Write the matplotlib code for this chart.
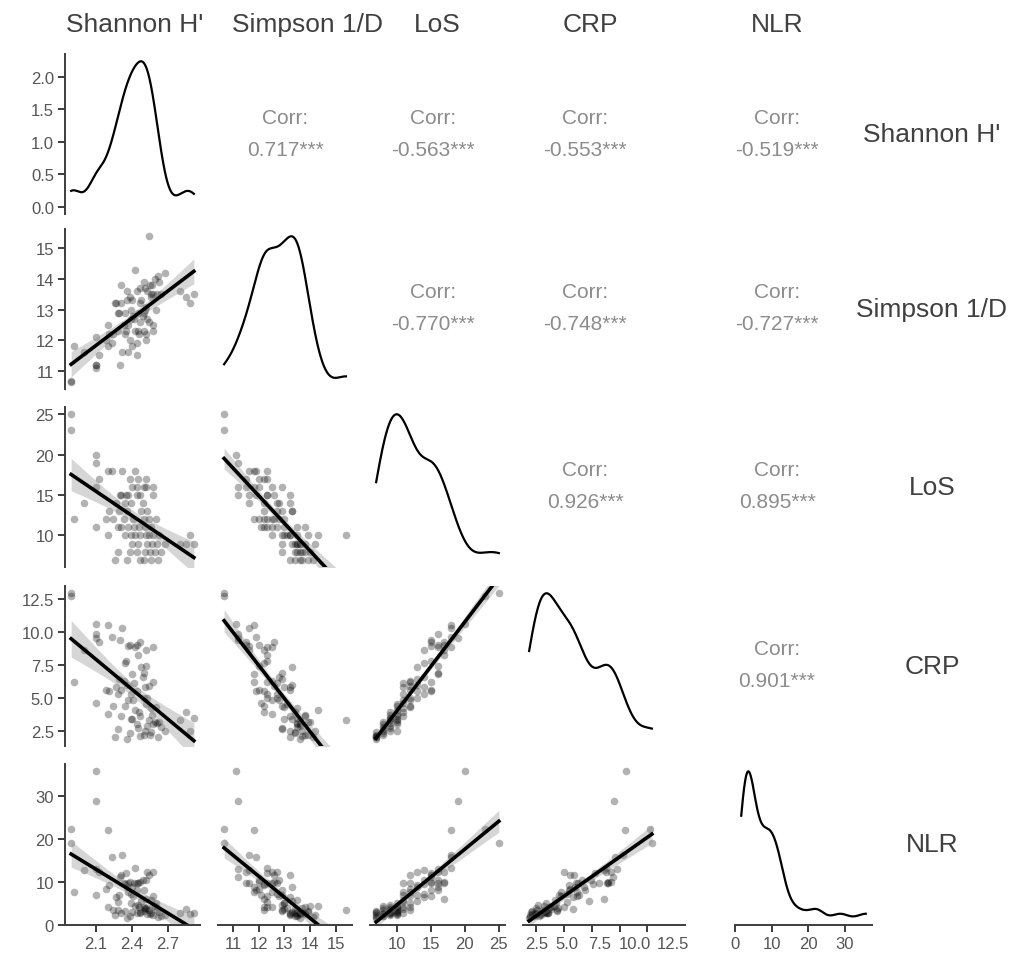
import numpy as np
import matplotlib.pyplot as plt
from matplotlib.ticker import FormatStrFormatter, MultipleLocator
from matplotlib.transforms import ScaledTranslation

plt.rcParams['font.family'] = ['Liberation Sans', 'DejaVu Sans']

shannon = [2.26, 2.36, 2.50, 2.56, 2.62, 2.47,
           2.28, 2.38, 2.44, 2.51, 2.55, 2.59, 2.64,
           2.40, 2.53, 2.57, 2.61, 2.68, 2.80, 2.85, 2.92, 2.45,
           2.20, 2.34, 2.39, 2.47, 2.52, 2.54, 2.58, 2.89, 2.43, 2.63,
           2.10, 2.28, 2.46, 2.37, 2.51, 2.56, 2.42, 2.31,
           1.91, 2.18, 2.24, 2.33, 2.50, 2.41, 2.54, 2.60,
           2.21, 2.29, 2.48, 2.53, 2.36,
           2.00, 2.34, 2.39, 2.49, 2.27,
           2.30, 2.37, 2.44, 2.35, 2.58, 2.47, 2.31,
           2.10, 2.44, 2.40, 2.52, 2.58, 2.50,
           2.12, 2.52, 2.45, 2.38,
           2.20, 2.23, 2.32, 2.43,
           2.10, 2.10, 1.89, 1.89]
simpson = [13.2, 13.6, 13.9, 13.4, 14.1, 13.7,
           12.9, 13.4, 13.6, 13.7, 13.8, 14.0, 13.5,
           13.3, 13.6, 13.8, 13.5, 14.2, 13.6, 13.4, 13.5, 12.9,
           12.5, 12.9, 13.0, 13.2, 13.1, 15.4, 13.5, 13.2, 14.3, 13.9,
           12.1, 12.3, 12.2, 12.5, 13.0, 13.5, 12.7, 13.8,
           11.8, 12.0, 12.2, 12.5, 12.3, 12.8, 12.6, 13.0,
           12.2, 12.9, 13.3, 12.7, 13.3,
           11.6, 12.2, 12.7, 12.8, 13.2,
           11.2, 11.6, 11.9, 12.3, 12.3, 12.6, 13.2,
           11.2, 11.5, 11.8, 12.0, 12.5, 12.9,
           11.5, 12.2, 12.3, 12.0,
           11.8, 11.9, 11.6, 12.3,
           11.2, 11.1, 10.65, 10.64]
los = [7] * 6 + [8] * 7 + [9] * 9 + [10] * 10 + [11] * 8 + [12] * 8 + [13] * 5 + \
      [14] * 5 + [15] * 7 + [16] * 6 + [17] * 4 + [18] * 4 + [19, 20, 23, 25]
crp = [2.0, 1.9, 2.2, 2.4, 2.0, 2.1,
       2.6, 2.3, 3.0, 2.5, 2.2, 3.2, 2.8,
       3.4, 2.9, 3.7, 3.1, 2.5, 3.3, 3.9, 3.5, 2.7,
       3.8, 4.4, 3.4, 3.6, 4.5, 3.3, 3.0, 2.5, 4.1, 3.2,
       4.6, 5.3, 3.9, 4.8, 5.8, 4.2, 6.1, 3.6,
       6.2, 5.6, 4.4, 6.3, 5.0, 4.8, 5.9, 4.3,
       5.5, 6.4, 7.3, 5.0, 6.0,
       8.6, 7.6, 5.3, 6.6, 5.8,
       9.4, 8.9, 5.5, 7.8, 6.2, 9.2, 5.6,
       9.8, 9.0, 6.8, 7.4, 8.8, 6.9,
       9.2, 8.6, 8.2, 9.0,
       10.5, 9.6, 10.3, 8.8,
       9.55, 10.6, 12.7, 12.9]
nlr = [2.2, 1.6, 3.1, 2.6, 1.8, 2.9,
       3.4, 2.1, 2.7, 3.8, 2.4, 4.4, 1.9,
       3.0, 2.5, 4.2, 3.3, 2.2, 2.8, 3.6, 2.6, 4.6,
       4.0, 3.2, 5.1, 2.8, 3.9, 3.5, 2.3, 2.5, 4.4, 3.0,
       6.8, 5.2, 4.2, 7.5, 3.6, 5.8, 9.6, 2.8,
       7.6, 8.2, 3.4, 9.8, 4.0, 6.6, 11.5, 5.0,
       9.2, 7.0, 5.6, 12.2, 8.8,
       12.8, 9.4, 7.2, 10.5, 6.4,
       11.1, 9.6, 8.0, 12.0, 6.6, 10.0, 11.6,
       13.0, 9.8, 8.8, 10.5, 12.3, 8.0,
       12.2, 6.0, 9.8, 10.0,
       22.2, 15.8, 16.2, 13.2,
       28.8, 35.8, 22.4, 19.0]

names = ["Shannon H'", "Simpson 1/D", "LoS", "CRP", "NLR"]
corr_labels = [
    [None, "0.717***", "-0.563***", "-0.553***", "-0.519***"],
    [None, None, "-0.770***", "-0.748***", "-0.727***"],
    [None, None, None, "0.926***", "0.895***"],
    [None, None, None, None, "0.901***"],
]
var_ticks = [[2.1, 2.4, 2.7], [11, 12, 13, 14, 15], [10, 15, 20, 25],
             [2.5, 5.0, 7.5, 10.0, 12.5], [0, 10, 20, 30]]
tick_fmt = ['%.1f', '%d', '%d', '%.1f', '%d']

data = [np.array(v, dtype=float) for v in (shannon, simpson, los, crp, nlr)]

# panel boxes in pixels
W, H = 1016, 962
col_px = [(65, 200), (218, 352), (370, 505), (523, 658), (735, 872)]
row_px = [(55, 215), (230, 390), (408, 568), (587, 747), (765, 926)]
head_x = [135, 308, 437, 590, 777]
corr_x = [None, 285, 433, 585, 777]
label_x = 932
crp_label_shift = [1, 3, 8, 15, 26]  # the CRP tick labels drift right in the original
axis_col = '#3d3d3d'
text_col = '#404040'


def lims(v):
    r = v.max() - v.min()
    return v.min() - 0.05 * r, v.max() + 0.05 * r


def kde(v):
    n = len(v)
    iqr = np.subtract(*np.percentile(v, [75, 25]))
    bw = 0.9 * min(v.std(ddof=1), iqr / 1.34) * n ** -0.2
    g = np.linspace(v.min(), v.max(), 512)
    d = np.exp(-0.5 * ((g[:, None] - v[None, :]) / bw) ** 2).sum(1) / (n * bw * np.sqrt(2 * np.pi))
    return g, d


def lm_fit(x, y):
    n = len(x)
    b, a = np.polyfit(x, y, 1)
    xs = np.linspace(x.min(), x.max(), 100)
    yh = a + b * xs
    s = np.sqrt(np.sum((y - (a + b * x)) ** 2) / (n - 2))
    se = s * np.sqrt(1 / n + (xs - x.mean()) ** 2 / np.sum((x - x.mean()) ** 2))
    return xs, yh, 1.99 * se


fig = plt.figure(figsize=(W / 100, H / 100), dpi=100)

for i in range(5):
    for j in range(5):
        x0, x1 = col_px[j]
        y0, y1 = row_px[i]
        if i < j:
            cy = (y0 + y1) / 2
            fig.text(corr_x[j] / W, 1 - (cy - 17) / H, "Corr:", ha='center', va='center',
                     fontsize=15, color='#8c8c8c')
            fig.text(corr_x[j] / W, 1 - (cy + 15) / H, corr_labels[i][j], ha='center', va='center',
                     fontsize=15, color='#8c8c8c')
            continue
        xr = x1 + (27 if j == 3 else 0)
        ax = fig.add_axes([x0 / W, 1 - y1 / H, (xr - x0) / W, (y1 - y0) / H])
        xlo, xhi = lims(data[j])
        if j == 3:
            xhi = xlo + (xhi - xlo) * (xr - x0) / (x1 - x0)
        ax.set_xlim(xlo, xhi)
        if i == j:
            g, d = kde(data[j])
            ax.plot(g, d, color='black', lw=1.6)
            ax.set_ylim(-0.05 * d.max(), 1.05 * d.max())
        else:
            xs, yh, ci = lm_fit(data[j], data[i])
            ax.scatter(data[j], data[i], s=30, color='black', alpha=0.3, lw=0)
            ax.fill_between(xs, yh - ci, yh + ci, color='0.55', alpha=0.35, lw=0)
            ax.plot(xs, yh, color='black', lw=2.6)
            ax.set_ylim(*lims(data[i]))
        for sp in ax.spines.values():
            sp.set_visible(False)
        ax.tick_params(length=5, width=1.4, color=axis_col, labelcolor='#555555', labelsize=12,
                       pad=3)
        if j == 0:
            ax.spines['left'].set_visible(True)
            ax.spines['left'].set_color(axis_col)
            ax.spines['left'].set_linewidth(1.4)
            if i == 0:
                ax.yaxis.set_major_locator(MultipleLocator(0.5))
                ax.yaxis.set_major_formatter(FormatStrFormatter('%.1f'))
            else:
                ax.set_yticks(var_ticks[i])
                ax.yaxis.set_major_formatter(FormatStrFormatter(tick_fmt[i]))
        else:
            ax.set_yticks([])
        if i == 4:
            ax.spines['bottom'].set_visible(True)
            ax.spines['bottom'].set_color(axis_col)
            ax.spines['bottom'].set_linewidth(1.4)
            ax.set_xticks(var_ticks[j])
            ax.xaxis.set_major_formatter(FormatStrFormatter(tick_fmt[j]))
            if j == 3:
                for lab, dx in zip(ax.get_xticklabels(), crp_label_shift):
                    lab.set_transform(lab.get_transform() +
                                      ScaledTranslation(dx / 100, 0, fig.dpi_scale_trans))
        else:
            ax.set_xticks([])
        ax.patch.set_alpha(0)

for k, name in enumerate(names):
    fig.text(head_x[k] / W, 1 - 25 / H, name, ha='center', va='center', fontsize=19, color=text_col)
    cy = sum(row_px[k]) / 2
    fig.text(label_x / W, 1 - cy / H, name, ha='center', va='center', fontsize=19, color=text_col)

fig.savefig('out.png', dpi=100)
